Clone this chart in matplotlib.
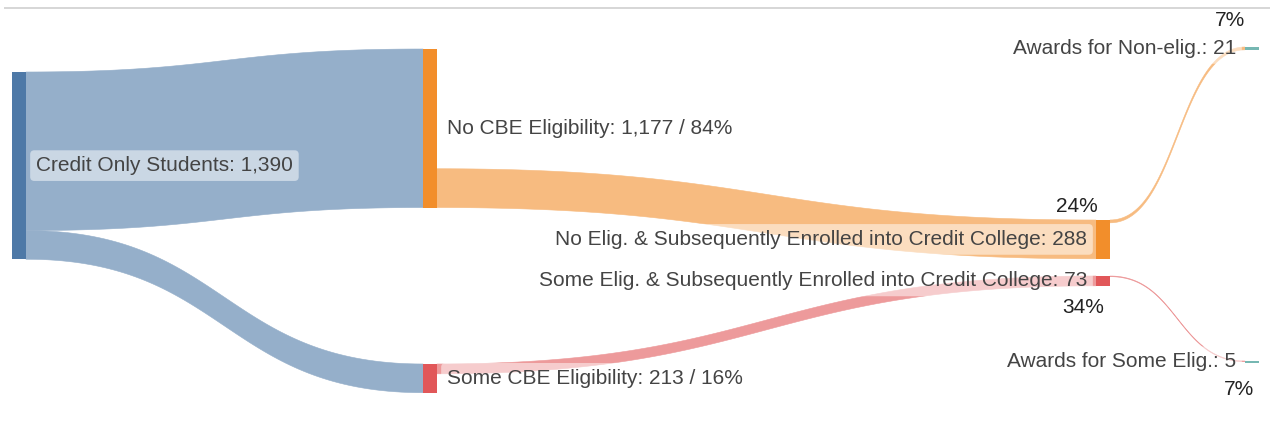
import numpy as np
import matplotlib
matplotlib.use("Agg")
import matplotlib.pyplot as plt
from matplotlib.patches import Rectangle, Polygon

# ---------------- data ----------------
node_names = [
    "Credit Only Students",
    "No CBE Eligibility",
    "Some CBE Eligibility",
    "No Elig. & Subsequently Enrolled into Credit College",
    "Some Elig. & Subsequently Enrolled into Credit College",
    "Awards for Non-elig.",
    "Awards for Some Elig.",
]
node_values = [1390, 1177, 213, 288, 73, 21, 5]
node_pct = [None, 84, 16, 24, 34, 7, 7]

link_source = [0, 0, 1, 2, 3, 4]
link_target = [1, 2, 3, 4, 5, 6]
link_values = [1177, 213, 288, 73, 21, 5]

# ---------------- layout / style ----------------
W, H = 1270, 432
scale = 0.1347            # px per student
node_w = 14
col_x = [12, 423, 1096, 1245]
node_col = [0, 1, 1, 2, 2, 3, 3]
node_top = [72, 49, 364, 220, 276, 47, 361]
node_colors = ["#4e79a7", "#f28e2b", "#e15759", "#f28e2b", "#e15759", "#76b7b2", "#76b7b2"]
link_src_align = ["stack", "stack", "bottom", "stack", "stack", "stack"]
label_side = ["right", "right", "right", "left", "left", "left", "left"]
# percentage annotation placement: (dx from node left, dy from node top/bottom, anchor)
pct_place = {3: (-19, -13, "top"), 4: (-13, 22, "bottom"), 5: (-15, -27, "top"), 6: (-6, 27, "bottom")}

text_color = "#444444"
pct_color = "#222222"
font = ["Liberation Sans", "DejaVu Sans"]
fs = 15

def blend(c, a=0.6):
    r, g, b = matplotlib.colors.to_rgb(c)
    return (a * r + (1 - a), a * g + (1 - a), a * b + (1 - a))

fig = plt.figure(figsize=(W / 100, H / 100), dpi=100)
ax = fig.add_axes([0, 0, 1, 1])
ax.set_xlim(0, W)
ax.set_ylim(H, 0)
ax.axis("off")

# top separator line
ax.plot([4, W], [8, 8], color="#d0d0d0", lw=1.2, solid_capstyle="butt")

heights = [max(v * scale, 1.6) for v in node_values]
src_used = [0.0] * len(node_values)
tgt_used = [0.0] * len(node_values)

def bez(x0, y0, x1, y1, n=80):
    t = np.linspace(0, 1, n)
    xm = (x0 + x1) / 2
    x = (1 - t) ** 3 * x0 + 3 * (1 - t) ** 2 * t * xm + 3 * (1 - t) * t ** 2 * xm + t ** 3 * x1
    y = (1 - t) ** 3 * y0 + 3 * (1 - t) ** 2 * t * y0 + 3 * (1 - t) * t ** 2 * y1 + t ** 3 * y1
    return x, y

for s, t, v, al in zip(link_source, link_target, link_values, link_src_align):
    h = v * scale
    if al == "bottom":
        ys = node_top[s] + node_values[s] * scale - h
    else:
        ys = node_top[s] + src_used[s]
        src_used[s] += h
    yt = node_top[t] + tgt_used[t]
    tgt_used[t] += h
    x0 = col_x[node_col[s]] + node_w
    x1 = col_x[node_col[t]]
    xt, ytop = bez(x0, ys, x1, yt)
    xb, ybot = bez(x0, ys + h, x1, yt + h)
    pts = np.vstack([np.column_stack([xt, ytop]), np.column_stack([xb[::-1], ybot[::-1]])])
    col = blend(node_colors[s])
    ax.add_patch(Polygon(pts, closed=True, facecolor=col, edgecolor=col, lw=0.4, zorder=1))

for i, (name, v) in enumerate(zip(node_names, node_values)):
    x = col_x[node_col[i]]
    y = node_top[i]
    h = heights[i]
    ax.add_patch(Rectangle((x, y), node_w, h, facecolor=node_colors[i], edgecolor="none", zorder=2))
    txt = f"{name}: {v:,}"
    if i in (1, 2):
        txt += f" / {node_pct[i]}%"
    yc = y + h / 2
    if label_side[i] == "right":
        tx, ha = x + node_w + 10, "left"
    else:
        tx, ha = x - 9, "right"
    ax.text(tx, yc, txt, ha=ha, va="center", fontsize=fs, color=text_color, family=font, zorder=4,
            bbox=dict(boxstyle="round,pad=0.28,rounding_size=0.2", facecolor="white", alpha=0.5, edgecolor="none"))
    if i in pct_place:
        dx, dy, anc = pct_place[i]
        py = (y + dy) if anc == "top" else (y + h + dy)
        ax.text(x + dx, py, f"{node_pct[i]}%", ha="center", va="center", fontsize=fs, color=pct_color,
                family=font, zorder=4)

fig.savefig("out.png", dpi=100)
